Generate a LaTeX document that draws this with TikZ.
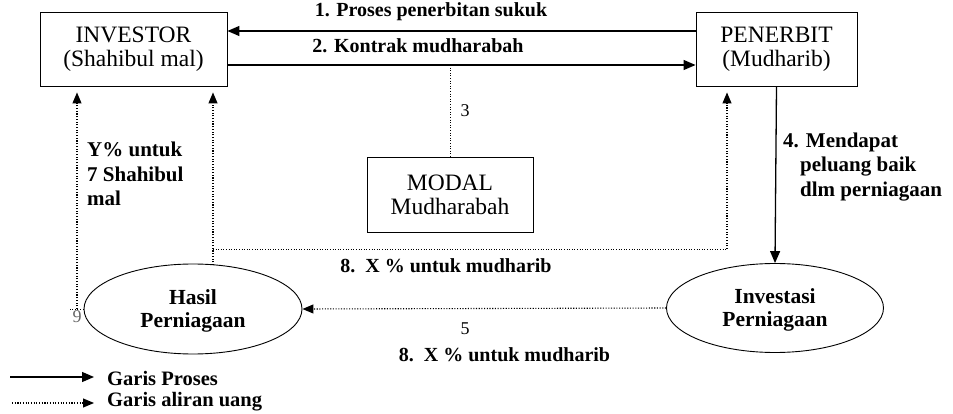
\documentclass[tikz,border=0pt]{standalone}
\usepackage{fontspec}
\setmainfont{Liberation Serif}
\usetikzlibrary{arrows.meta,shapes.geometric}
\begin{document}
\begin{tikzpicture}[x=1pt,y=-1pt,
  box/.style={draw,line width=0.9pt,rectangle,align=center,inner sep=0pt,font=\fontsize{23.5}{24}\selectfont},
  oval/.style={draw,line width=0.9pt,ellipse,inner sep=0pt,align=center,font=\fontsize{21.5}{23}\selectfont\bfseries},
  proc/.style={line width=1.3pt,-{Triangle[length=12pt,width=10pt]}},
  money/.style={line width=1.1pt,dash pattern=on 1.1pt off 1.6pt,-{Triangle[length=11pt,width=9pt]}},
  moneyline/.style={line width=0.9pt,dash pattern=on 1pt off 1.6pt},
  lab/.style={font=\fontsize{20}{24}\selectfont\bfseries,inner sep=0pt},
  biglab/.style={font=\fontsize{21}{24.5}\selectfont\bfseries,inner sep=0pt},
  leglab/.style={font=\fontsize{20.5}{20}\selectfont\bfseries,inner sep=0pt},
  num/.style={font=\fontsize{18}{22}\selectfont,inner sep=0pt}]
\useasboundingbox (0,0) rectangle (953,414);
% boxes
\node[box,minimum width=187pt,minimum height=74pt] (inv) at (133.5,49) {INVESTOR\\(Shahibul mal)};
\node[box,minimum width=161pt,minimum height=74pt] (pen) at (776.5,49) {PENERBIT\\(Mudharib)};
\node[box,minimum width=166pt,minimum height=75pt] (modal) at (450,194.5) {MODAL\\Mudharabah};
\node[oval,minimum width=218pt,minimum height=90pt] (hasil) at (193,309) {\rule{0pt}{19pt}Hasil\\Perniagaan};
\node[oval,minimum width=217pt,minimum height=89pt] (invest) at (775,308) {\rule{0pt}{19pt}Investasi\\Perniagaan};
% coordinates
\coordinate (k3) at (450,65);
\coordinate (c9) at (68,309);
\coordinate (v9) at (77,309);
\coordinate (h8) at (213,265);
\coordinate (j8) at (213,249);
\coordinate (p8) at (727,249);
\coordinate (l1a) at (10,377);
\coordinate (l1b) at (94,377);
\coordinate (l2a) at (12,403);
\coordinate (l2b) at (94,403);
% process lines
\draw[proc] ([yshift=18pt]pen.west) -- ([yshift=18pt]inv.east);
\draw[proc] ([yshift=-16pt]inv.east) -- ([yshift=-16pt]pen.west);
\draw[proc] (pen.south) -- (invest.north);
% money lines
\draw[moneyline] (k3) -- (modal.north);
\draw[moneyline] (hasil.west) -- (c9);
\draw[money,shorten >=6pt] (v9) -- (inv.south -| v9);
\draw[money,shorten >=6pt] (h8) -- (inv.south -| h8);
\draw[moneyline] (j8) -- (p8);
\draw[money,shorten >=6pt] (p8) -- (pen.south -| p8);
\draw[money] (invest.west) -- (hasil.east);
% labels
\node[lab] (t1) at (431,12) {1. Proses penerbitan sukuk};
\node[lab] (t2) at (418,46) {2. Kontrak mudharabah};
\node[num] (t3) at (465,111) {3};
\node[biglab,anchor=west,align=left] (t4) at (783,167) {4. Mendapat\\\hspace{17pt}peluang baik\\\hspace{17pt}dlm perniagaan};
\node[biglab,anchor=west,align=left] (ty) at (87,174) {Y\% untuk\\7 Shahibul\\mal};
\node[lab] (t8a) at (446,266) {8.\ \ X \% untuk mudharib};
\node[num] (t5) at (465,329) {5};
\node[lab] (t8b) at (504.5,355) {8.\ \ X \% untuk mudharib};
\node[num,text=black!60] (t9) at (77,317) {9};
% legend
\draw[proc] (l1a) -- (l1b);
\draw[money] (l2a) -- (l2b);
\node[leglab,anchor=base west] (g1) at (107,385) {Garis Proses};
\node[leglab,anchor=base west] (g2) at (107,406) {Garis aliran uang};
\end{tikzpicture}
\end{document}
